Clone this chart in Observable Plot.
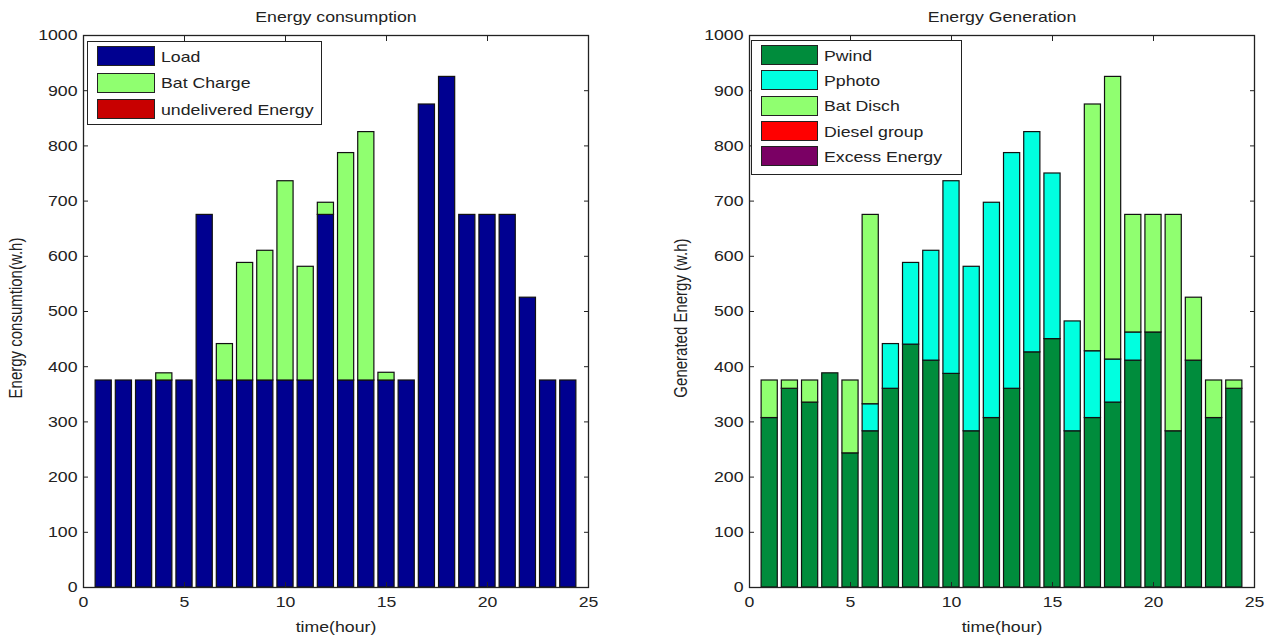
<!DOCTYPE html>
<html>
<head>
<meta charset="utf-8">
<script src="https://cdn.jsdelivr.net/npm/d3@7"></script>
<script src="https://cdn.jsdelivr.net/npm/@observablehq/plot@0.6"></script>
<style>
  html, body { margin: 0; padding: 0; background: #fff; }
  #root { position: relative; width: 1272px; height: 639px; font-family: "Liberation Sans", Arial, sans-serif; color: #222; font-size: 15px; }
  .panel { position: absolute; top: 0; }
  .title, .xlabel { position: absolute; transform: translateX(-50%) scaleX(1.18); white-space: nowrap; line-height: 18px; }
  .ylabel { position: absolute; transform: translate(-50%, -50%) scaleX(1.18) rotate(-90deg); white-space: nowrap; line-height: 18px; }
  .legend { position: absolute; background: #fff; border: 1.5px solid #222; box-sizing: border-box; }
  .legend .row { display: flex; align-items: center; }
  .legend .sw { height: 20px; border: 1.5px solid #222; box-sizing: border-box; flex: none; }
  .legend .tx { display: inline-block; transform: scaleX(1.18); transform-origin: left center; white-space: nowrap; }
</style>
</head>
<body>
<div id="root"></div>
<script>
// ---- data ----
const hours = [1,2,3,4,5,6,7,8,9,10,11,12,13,14,15,16,17,18,19,20,21,22,23,24];

// Energy consumption (w.h)
const consumptionSeries = ["Load", "Bat Charge", "undelivered Energy"];
const load        = [375,375,375,375,375,675,375,375,375,375,375,675,375,375,375,375,875,925,675,675,675,525,375,375];
const batCharge   = [0,0,0,13,0,0,66,213,235,361,206,22,412,450,14,0,0,0,0,0,0,0,0,0];
const undelivered = [0,0,0,0,0,0,0,0,0,0,0,0,0,0,0,0,0,0,0,0,0,0,0,0];
const consumptionColors = ["#000090", "#90FF70", "#C80000"];

// Energy generation (w.h)
const generationSeries = ["Pwind", "Pphoto", "Bat Disch", "Diesel group", "Excess Energy"];
const pwind   = [307,360,335,388,243,283,360,440,411,387,283,307,360,426,450,283,307,335,411,462,283,411,307,360];
const pphoto  = [0,0,0,0,0,49,81,148,199,349,298,390,427,399,300,199,121,78,51,0,0,0,0,0];
const batDisch= [68,15,40,0,132,343,0,0,0,0,0,0,0,0,0,0,447,512,213,213,392,114,68,15];
const diesel  = [0,0,0,0,0,0,0,0,0,0,0,0,0,0,0,0,0,0,0,0,0,0,0,0];
const excess  = [0,0,0,0,0,0,0,0,0,0,0,0,0,0,0,0,0,0,0,0,0,0,0,0];
const generationColors = ["#008C3C", "#00FFE0", "#90FF70", "#FF0000", "#7A0064"];

const xTicks = [0,5,10,15,20,25];
const yTicks = [0,100,200,300,400,500,600,700,800,900,1000];

// ---- build stacked rows ----
function stackRows(seriesNames, arrays) {
  const rows = [];
  hours.forEach((h, i) => {
    let base = 0;
    seriesNames.forEach((s, k) => {
      const v = arrays[k][i];
      if (v > 0) rows.push({hour: h, series: s, y1: base, y2: base + v});
      base += v;
    });
  });
  return rows;
}

const root = document.getElementById("root");

function panel({left, width, marginLeft, marginRight, rows, names, colors, title, ylabel, lg}) {
  const div = document.createElement("div");
  div.className = "panel";
  div.style.left = left + "px";
  div.style.width = width + "px";
  const chart = Plot.plot({
    width, height: 639,
    marginLeft, marginRight, marginTop: 35, marginBottom: 52,
    style: {fontFamily: '"Liberation Sans", Arial, sans-serif', fontSize: "15px", color: "#222", background: "transparent", overflow: "visible"},
    x: {domain: [0, 25]},
    y: {domain: [0, 1000]},
    color: {domain: names, range: colors},
    marks: [
      Plot.rect(rows, {
        x1: d => d.hour - 0.4, x2: d => d.hour + 0.4,
        y1: "y1", y2: "y2", fill: "series",
        stroke: "#111", strokeWidth: 1.2
      }),
      Plot.frame({stroke: "#222", strokeWidth: 1.3}),
      Plot.axisX(xTicks, {anchor: "bottom", tickSize: -5, tickPadding: 14, label: null, fontSize: 15, tickFormat: d => String(d)}),
      Plot.axisX(xTicks, {anchor: "top", tickSize: -5, tickFormat: () => "", label: null}),
      Plot.axisY(yTicks, {anchor: "left", tickSize: -5, tickPadding: 11, label: null, fontSize: 15, tickFormat: d => String(d)}),
      Plot.axisY(yTicks, {anchor: "right", tickSize: -5, tickFormat: () => "", label: null})
    ]
  });
  // widen tick label glyphs horizontally, like the reference
  chart.querySelectorAll('g[aria-label$="tick label"] text').forEach(el => {
    const t = el.getAttribute("transform") || "";
    el.setAttribute("transform", t + " scale(1.18,1)");
  });
  div.appendChild(chart);
  root.appendChild(div);

  const cx = left + marginLeft + (width - marginLeft - marginRight) / 2;
  const t = document.createElement("div");
  t.className = "title"; t.textContent = title;
  t.style.left = cx + "px"; t.style.top = "8px";
  root.appendChild(t);

  const xl = document.createElement("div");
  xl.className = "xlabel"; xl.textContent = "time(hour)";
  xl.style.left = cx + "px"; xl.style.top = "618px";
  root.appendChild(xl);

  const yl = document.createElement("div");
  yl.className = "ylabel"; yl.textContent = ylabel;
  yl.style.left = (left + lg.ylx) + "px"; yl.style.top = "318px";
  root.appendChild(yl);

  const box = document.createElement("div");
  box.className = "legend";
  box.style.left = lg.x + "px"; box.style.top = lg.y + "px";
  box.style.width = lg.w + "px"; box.style.height = lg.h + "px";
  box.style.paddingTop = lg.pt + "px";
  box.style.paddingLeft = lg.pl + "px";
  names.forEach((n, i) => {
    const r = document.createElement("div"); r.className = "row";
    r.style.height = lg.rh + "px";
    const sw = document.createElement("div"); sw.className = "sw";
    sw.style.background = colors[i]; sw.style.width = lg.sw + "px"; sw.style.marginRight = "6px";
    const tx = document.createElement("span"); tx.className = "tx"; tx.textContent = n;
    r.appendChild(sw); r.appendChild(tx); box.appendChild(r);
  });
  root.appendChild(box);
}

panel({
  left: 0, width: 600, marginLeft: 83, marginRight: 12,
  rows: stackRows(consumptionSeries, [load, batCharge, undelivered]),
  names: consumptionSeries, colors: consumptionColors,
  title: "Energy consumption", ylabel: "Energy consumtion(w.h)",
  lg: {x: 87, y: 41, w: 235, h: 84, pt: 1, pl: 9, rh: 26.5, sw: 58, ylx: 16}
});
panel({
  left: 640, width: 632, marginLeft: 109, marginRight: 18,
  rows: stackRows(generationSeries, [pwind, pphoto, batDisch, diesel, excess]),
  names: generationSeries, colors: generationColors,
  title: "Energy Generation", ylabel: "Generated Energy (w.h)",
  lg: {x: 751, y: 40, w: 211, h: 135, pt: 1.5, pl: 9, rh: 25.3, sw: 57, ylx: 41}
});
</script>
</body>
</html>
